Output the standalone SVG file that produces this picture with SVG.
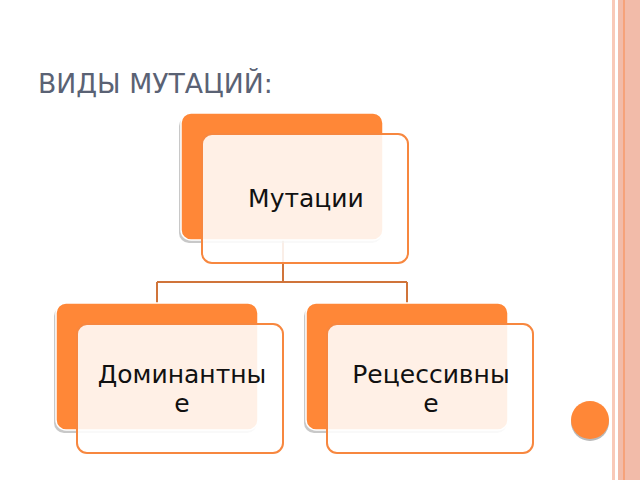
<svg xmlns="http://www.w3.org/2000/svg" width="640" height="480" viewBox="0 0 640 480">
<defs>
<style>
.shadow{fill:#9a9a9a;opacity:0.55}
.back{fill:#FF8737;stroke:#ffffff;stroke-width:1.5}
.front{fill:#ffffff;fill-opacity:0.88;stroke:#F7873F;stroke-width:2}
.lbl{font-family:"DejaVu Sans",Verdana,sans-serif;font-size:25px;fill:#111111;text-anchor:middle}
.conn{stroke:#D0743A;stroke-width:2;fill:none}
</style>
</defs>
<rect width="640" height="480" fill="#ffffff"/>
<g id="border">
<rect x="612" y="0" width="3" height="480" fill="#F9C9B8"/>
<rect x="618" y="0" width="22" height="480" fill="#F2BBA9"/>
<rect x="623" y="0" width="2" height="480" fill="#F6A27A"/>
</g>
<text id="title" x="38" y="93" font-family="DejaVu Sans,Verdana,sans-serif" font-size="26.7" fill="#5A6274">ВИДЫ МУТАЦИЙ:</text>
<g id="connectors">
<path class="conn" d="M283 240 V282 M157 282 H407 M157 282 V303 M407 282 V303"/>
</g>
<g id="node-mutations">
<rect class="shadow" x="179" y="116" width="203" height="127" rx="10"/>
<rect class="back" x="181" y="113" width="202" height="127" rx="10"/>
<rect class="front" x="202" y="134" width="206" height="129" rx="10"/>
<text class="lbl" x="306" y="207">Мутации</text>
</g>
<g id="node-dominant">
<rect class="shadow" x="54" y="306" width="203" height="127" rx="10"/>
<rect class="back" x="56" y="303" width="202" height="127" rx="10"/>
<rect class="front" x="77" y="324" width="206" height="129" rx="10"/>
<text class="lbl" x="182" y="383">Доминантны</text>
<text class="lbl" x="182" y="412">е</text>
</g>
<g id="node-recessive">
<rect class="shadow" x="304" y="306" width="203" height="127" rx="10"/>
<rect class="back" x="306" y="303" width="202" height="127" rx="10"/>
<rect class="front" x="327" y="324" width="206" height="129" rx="10"/>
<text class="lbl" x="431" y="383">Рецессивны</text>
<text class="lbl" x="431" y="412">е</text>
</g>
<g id="button">
<circle cx="590" cy="422" r="19" fill="#8a8a8a" opacity="0.6"/>
<circle cx="590" cy="420" r="19" fill="#FF8737"/>
</g>
</svg>
